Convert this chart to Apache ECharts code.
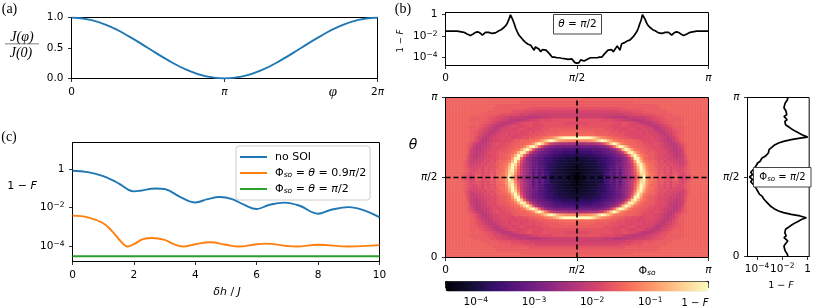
<!DOCTYPE html>
<html><head><meta charset="utf-8">
<script src="https://cdn.jsdelivr.net/npm/echarts@6/dist/echarts.min.js"></script>
<style>html,body{margin:0;padding:0;background:#fff}#c{width:814px;height:308px}</style>
</head><body><div id="c"></div>
<script>
const PI = Math.PI;
// (a)
const phiOverPi = [0,0.125,0.25,0.375,0.5,0.625,0.75,0.875,1,1.125,1.25,1.375,1.5,1.625,1.75,1.875,2];
const couplingRatio = [1,0.962,0.854,0.691,0.5,0.309,0.146,0.038,0,0.038,0.146,0.309,0.5,0.691,0.854,0.962,1];
// (c) log10(1-F)
const deltaH   = [0,0.5,1,1.5,1.8,2,2.2,2.7,3,3.5,4,4.4,4.8,5.2,5.6,6,6.4,6.9,7.4,8,8.4,9,9.5,10];
const noSoi    = [-0.10,-0.17,-0.38,-0.75,-1.06,-1.16,-1.13,-1.01,-1.04,-1.44,-1.73,-1.56,-1.45,-1.56,-1.86,-2.07,-1.86,-1.74,-1.90,-2.31,-2.12,-1.97,-2.14,-2.50];
const deltaH2  = [0,0.5,1,1.3,1.6,1.8,2,2.3,2.6,3,3.3,3.6,4,4.5,5,5.4,6,6.3,7,7.3,8,9,10];
const soi09    = [-2.41,-2.50,-2.80,-3.23,-3.78,-4.0,-3.88,-3.62,-3.56,-3.66,-3.88,-4.0,-3.88,-3.78,-3.91,-4.0,-3.88,-3.85,-3.97,-4.0,-3.91,-4.0,-3.93];
const deltaH3  = [0,10];
const soiPi2   = [-4.5,-4.5];
// (b) top slice, left half (fraction of pi, log10)
const sliceXFrac = [0,.045,.07,.082,.095,.105,.114,.123,.131,.14,.146,.152,.159,.165,.171,.177,.184,.19,.197,.203,.212,.222,.23,.235,.241,.247,.251,.256,.262,.267,.273,.279,.286,.292,.298,.303,.309,.314,.319,.324,.33,.337,.342,.347,.355,.362,.368,.375,.382,.394,.406,.415,.423,.432,.441,.448,.457,.466,.473,.48,.486,.492,.497,.5];
const sliceXVal  = [-1.53,-1.53,-1.65,-1.8,-1.95,-1.8,-1.65,-1.6,-1.7,-1.9,-1.75,-1.65,-1.8,-1.65,-1.62,-1.75,-1.6,-1.7,-1.55,-1.5,-1.4,-1.2,-1.0,-.8,-.45,-.02,0,-.5,-.9,-1.27,-1.6,-1.9,-2.05,-2.27,-2.35,-2.55,-2.45,-2.75,-2.6,-2.85,-2.7,-3.3,-3.0,-2.9,-3.2,-3.45,-3.25,-3.2,-3.3,-3.6,-3.95,-3.95,-4.0,-4.0,-4.05,-4.0,-4.1,-4.15,-4.3,-4.1,-4.2,-4.45,-4.55,-4.5];
// (b) right slice, lower half
const sliceYFrac = [0,.015,.035,.05,.066,.083,.098,.108,.119,.129,.14,.15,.161,.171,.181,.196,.213,.234,.244,.249,.255,.265,.276,.286,.301,.318,.328,.339,.349,.36,.37,.38,.391,.401,.412,.422,.433,.443,.454,.47,.485,.5];
const sliceYVal  = [-1.57,-1.6,-1.77,-1.83,-1.87,-1.72,-1.57,-1.65,-1.87,-1.7,-1.62,-1.8,-1.72,-1.75,-1.57,-1.3,-.95,-.45,-.1,0,-.6,-1.3,-1.9,-2.3,-2.65,-2.95,-3.05,-3.2,-3.1,-3.45,-3.35,-3.6,-3.8,-3.75,-3.95,-3.95,-4.1,-4.25,-4.3,-4.5,-4.35,-4.6];
const crossLine = [0,0.5,1];
// (b) map: one quadrant of log10(1-F) in tenths; rows outer edge -> centre, columns outer edge -> centre
const q = [
[-15,-15,-15,-15,-15,-15,-15,-15,-15,-15, -15,-15,-15,-15,-15,-15,-15,-15,-15,-15, -15,-15,-15,-15,-15,-15,-15,-15,-15,-15, -15,-15,-15,-15,-15,-15,-15,-15,-15,-15, -15,-15,-15,-15],
[-15,-15,-15,-15,-15,-15,-15,-15,-15,-15, -15,-15,-15,-15,-15,-15,-15,-15,-15,-15, -15,-15,-15,-15,-15,-16,-16,-16,-16,-16, -16,-16,-16,-16,-16,-16,-16,-16,-16,-16, -16,-16,-16,-16],
[-15,-15,-15,-15,-15,-15,-15,-15,-15,-15, -15,-15,-15,-15,-15,-15,-15,-16,-16,-16, -16,-16,-16,-16,-16,-16,-16,-16,-16,-16, -16,-16,-16,-16,-16,-16,-16,-16,-16,-16, -16,-16,-16,-16],
[-15,-15,-15,-15,-15,-15,-15,-15,-15,-15, -15,-15,-15,-15,-15,-15,-16,-16,-16,-16, -16,-16,-16,-16,-16,-16,-16,-16,-17,-17, -17,-17,-17,-17,-17,-17,-17,-17,-17,-17, -17,-17,-17,-17],
[-15,-15,-15,-15,-15,-15,-15,-15,-15,-15, -15,-15,-15,-15,-16,-16,-16,-16,-16,-16, -16,-16,-17,-17,-17,-17,-18,-18,-18,-18, -19,-19,-19,-19,-19,-19,-19,-19,-19,-19, -19,-19,-19,-19],
[-15,-15,-15,-15,-15,-15,-15,-15,-15,-15, -15,-15,-16,-16,-16,-16,-16,-16,-17,-17, -17,-17,-18,-18,-18,-19,-19,-19,-20,-20, -20,-20,-20,-20,-20,-20,-20,-20,-20,-20, -20,-20,-20,-20],
[-15,-15,-15,-15,-15,-15,-15,-15,-15,-16, -16,-16,-16,-16,-16,-17,-17,-18,-18,-19, -19,-20,-20,-20,-21,-21,-21,-22,-22,-22, -22,-22,-21,-21,-21,-20,-20,-20,-20,-20, -20,-20,-20,-20],
[-15,-15,-15,-15,-15,-15,-15,-15,-16,-16, -16,-16,-16,-16,-17,-17,-18,-18,-19,-20, -20,-21,-22,-22,-22,-22,-21,-21,-20,-19, -19,-18,-18,-18,-18,-18,-17,-17,-17,-17, -17,-17,-17,-17],
[-15,-15,-15,-15,-15,-15,-15,-15,-15,-16, -15,-16,-16,-17,-17,-18,-19,-20,-21,-22, -22,-22,-21,-20,-19,-18,-18,-17,-17,-18, -18,-18,-17,-17,-17,-17,-17,-17,-17,-17, -18,-18,-18,-18],
[-15,-15,-15,-15,-15,-15,-15,-15,-16,-16, -16,-16,-17,-18,-19,-20,-21,-22,-22,-21, -20,-19,-18,-18,-19,-19,-18,-18,-17,-18, -18,-18,-18,-17,-17,-17,-17,-17,-17,-17, -17,-17,-17,-17],
[-15,-15,-15,-15,-15,-15,-15,-15,-16,-16, -16,-17,-18,-19,-20,-21,-22,-22,-20,-19, -19,-18,-19,-19,-18,-17,-18,-18,-19,-18, -18,-18,-17,-17,-17,-16,-16,-16,-16,-16, -16,-16,-16,-16],
[-15,-15,-15,-15,-15,-15,-15,-15,-16,-16, -17,-18,-19,-20,-21,-22,-21,-20,-19,-19, -18,-19,-18,-18,-18,-19,-18,-18,-17,-18, -17,-17,-17,-16,-16,-16,-16,-16,-15,-15, -15,-15,-15,-15],
[-15,-15,-15,-15,-15,-15,-15,-15,-16,-16, -17,-18,-20,-21,-22,-21,-20,-19,-19,-18, -18,-19,-18,-19,-18,-18,-18,-18,-17,-17, -17,-16,-16,-16,-15,-15,-15,-15,-14,-14, -14,-14,-14,-14],
[-15,-15,-15,-15,-15,-15,-15,-15,-16,-16, -18,-20,-21,-22,-21,-20,-19,-19,-18,-18, -18,-18,-19,-18,-18,-18,-17,-17,-16,-16, -15,-15,-14,-13,-12,-11,-9,-6,-3,-1, 0,0,0,0],
[-15,-15,-15,-15,-15,-15,-15,-15,-16,-17, -18,-20,-22,-22,-21,-20,-19,-19,-18,-18, -18,-18,-17,-16,-16,-15,-15,-15,-14,-14, -13,-12,-9,-6,-2,0,-3,-7,-9,-10, -11,-11,-11,-12],
[-15,-15,-15,-15,-15,-15,-15,-16,-17,-19, -21,-22,-22,-21,-20,-19,-18,-17,-18,-18, -17,-17,-16,-16,-15,-15,-15,-14,-13,-10, -4,0,-5,-11,-16,-20,-22,-23,-24,-24, -24,-25,-25,-25],
[-15,-15,-15,-15,-15,-15,-15,-16,-18,-20, -22,-22,-21,-21,-20,-19,-18,-18,-18,-17, -17,-16,-16,-15,-15,-14,-12,-7,-2,0, -6,-15,-21,-25,-27,-28,-29,-30,-30,-30, -30,-30,-30,-31],
[-15,-15,-15,-15,-15,-15,-15,-16,-19,-21, -22,-22,-21,-20,-19,-18,-18,-18,-17,-17, -16,-16,-15,-14,-13,-9,-3,0,-7,-17, -23,-26,-28,-30,-31,-32,-33,-33,-33,-34, -34,-34,-34,-35],
[-15,-15,-15,-15,-15,-15,-15,-16,-20,-21, -22,-21,-21,-20,-18,-18,-18,-17,-16,-16, -16,-15,-14,-12,-7,-1,-2,-12,-20,-25, -27,-29,-30,-31,-32,-33,-34,-35,-35,-36, -36,-36,-36,-37],
[-15,-15,-15,-15,-15,-15,-15,-17,-20,-21, -22,-21,-20,-19,-19,-18,-18,-17,-16,-16, -15,-14,-12,-7,0,-5,-15,-22,-26,-28, -29,-31,-32,-33,-34,-35,-36,-36,-37,-38, -38,-38,-38,-39],
[-15,-15,-15,-15,-15,-15,-15,-17,-20,-21, -21,-20,-20,-19,-18,-18,-18,-17,-16,-16, -15,-14,-9,-1,-1,-15,-22,-26,-28,-30, -31,-32,-33,-35,-36,-36,-38,-38,-39,-39, -40,-40,-40,-41],
[-15,-15,-15,-15,-15,-15,-16,-18,-20,-21, -20,-20,-19,-18,-19,-17,-18,-16,-15,-15, -14,-12,-6,0,-9,-18,-23,-26,-28,-31, -31,-33,-34,-35,-36,-37,-38,-39,-40,-40, -40,-41,-41,-41],
[-15,-15,-15,-15,-15,-15,-16,-18,-20,-20, -19,-19,-18,-19,-17,-18,-17,-16,-15,-14, -13,-8,-1,-4,-13,-20,-24,-26,-28,-30, -31,-33,-34,-35,-37,-38,-38,-39,-40,-40, -41,-41,-42,-42],
[-15,-15,-15,-15,-15,-15,-16,-17,-19,-19, -19,-18,-19,-17,-18,-17,-17,-16,-14,-14, -12,-6,0,-7,-15,-21,-24,-26,-28,-31, -30,-33,-33,-35,-37,-38,-39,-40,-40,-41, -41,-42,-42,-43],
[-15,-15,-15,-15,-15,-15,-16,-17,-18,-19, -18,-17,-19,-17,-18,-17,-17,-15,-15,-14, -11,-4,-1,-9,-16,-21,-24,-26,-28,-32, -30,-33,-33,-36,-37,-38,-39,-40,-41,-41, -42,-42,-43,-43],
[-15,-15,-15,-15,-15,-15,-16,-17,-19,-18, -17,-17,-19,-17,-18,-16,-17,-15,-14,-13, -10,-3,-3,-11,-17,-21,-24,-26,-28,-33, -30,-34,-32,-35,-36,-39,-40,-40,-41,-41, -42,-42,-43,-44],
[-15,-15,-15,-15,-15,-16,-17,-18,-20,-19, -16,-16,-18,-18,-17,-16,-17,-14,-14,-13, -10,-1,-6,-13,-19,-22,-25,-27,-28,-33, -29,-34,-32,-35,-36,-40,-40,-40,-40,-41, -41,-43,-43,-45]
];
const magma = ['#000004','#140e36','#3b0f70','#641a80','#8c2981','#b73779','#de4968','#f7705c','#fe9f6d','#fecf92','#fcfdbf'];
const cbMin = -4.52, cbMax = 0;

// build full table from the quadrant
const rowsFull = q.concat(q.slice().reverse()).map(r => r.concat(r.slice().reverse()));
const heatData = [];
rowsFull.forEach((r,y)=>r.forEach((v,x)=>heatData.push([x,y,v/10])));
const nx = rowsFull[0].length, ny = rowsFull.length;

const FONT='"DejaVu Sans"';
const FS=10.5;
const richBase = {
  b:{fontFamily:FONT,fontSize:FS,color:'#000',lineHeight:13},
  s:{fontFamily:FONT,fontSize:7.5,color:'#000',verticalAlign:'top',lineHeight:13,padding:[0,0,3,0]},
  i:{fontFamily:FONT,fontStyle:'italic',fontSize:FS,color:'#000',lineHeight:13}
};
const logFmt = v => Math.abs(v)<1e-9 ? '{b|1}' : '{b|10}{s|−'+Math.round(-v)+'}';
const piFmt = v => {
  if(Math.abs(v)<1e-9) return '{b|0}';
  const k=v/PI;
  if(Math.abs(k-0.5)<1e-6) return '{i|π}{b|/2}';
  if(Math.abs(k-1)<1e-6) return '{i|π}';
  return '{b|2}{i|π}';
};
const pis = [0,PI/2,PI];
function axis(o,margin){
  const a=Object.assign({
    type:'value', splitLine:{show:false},
    axisLine:{show:true,onZero:false,lineStyle:{color:'#000',width:1}},
    axisTick:{show:true,length:3.5,lineStyle:{color:'#000',width:.8}},
    axisLabel:{show:true,margin:margin==null?5:margin,hideOverlap:false,fontFamily:FONT,fontSize:FS,color:'#000',rich:richBase,showMinLabel:true,showMaxLabel:true}
  },o);
  return a;
}
function custom(ax,vals,fmt){
  ax.axisTick=Object.assign({},ax.axisTick,{customValues:vals});
  ax.axisLabel=Object.assign({},ax.axisLabel,{customValues:vals,formatter:fmt});
  return ax;
}
const gridStyle={show:true,borderColor:'#000',borderWidth:1,backgroundColor:'transparent'};
const grids=[
 Object.assign({left:71.5,top:17.5,width:306,height:61},gridStyle),      //0 a
 Object.assign({left:445.5,top:12.5,width:263,height:53},gridStyle),     //1 b top
 Object.assign({left:445.5,top:97.5,width:263,height:160,z:3},gridStyle),//2 map
 Object.assign({left:445.5,top:281.5,width:263,height:10,z:3},gridStyle),//3 colorbar
 Object.assign({left:747.5,top:97.5,width:65,height:159},gridStyle),     //4 right
 Object.assign({left:72.5,top:142.5,width:307,height:119},gridStyle)     //5 c
];
const xAxes=[
 custom(axis({gridIndex:0,min:0,max:2*PI},7),[0,PI,2*PI],piFmt),
 custom(axis({gridIndex:1,min:0,max:PI},6),pis,piFmt),
 {gridIndex:2,type:'category',show:false,boundaryGap:true,data:Array.from({length:nx},(_,i)=>i)},
 custom(axis({gridIndex:2,min:0,max:PI,position:'bottom'},6),pis,piFmt),
 custom(axis({gridIndex:3,min:cbMin,max:cbMax,position:'bottom'},9),[-4,-3,-2,-1],logFmt),
 (function(){const vals=[];for(let d=-5;d<0;d++)for(let k=2;k<10;k++){const v=d+Math.log10(k);if(v>cbMin&&v<cbMax)vals.push(v);}
   const a=axis({gridIndex:3,min:cbMin,max:cbMax,position:'bottom'});a.axisLabel={show:false};a.axisTick=Object.assign({},a.axisTick,{length:2,customValues:vals});return a;})(),
 custom(axis({gridIndex:4,min:-4.75,max:0.12},6),[-4,-2,0],logFmt),
 axis({gridIndex:5,min:0,max:10,interval:2},8)
];
const yAxes=[
 (function(){const a=axis({gridIndex:0,min:0,max:1,interval:.5},8);a.axisLabel.formatter=v=>v.toFixed(1);return a;})(),
 custom(axis({gridIndex:1,min:-4.72,max:0.19},8),[-4,-2,0],logFmt),
 {gridIndex:2,type:'category',show:false,boundaryGap:true,data:Array.from({length:ny},(_,i)=>i)},
 custom(axis({gridIndex:2,min:0,max:PI,position:'left'},8),pis,piFmt),
 {gridIndex:3,type:'value',show:false,min:0,max:1},
 custom(axis({gridIndex:4,min:0,max:PI},8),pis,piFmt),
 custom(axis({gridIndex:5,min:-4.77,max:1.354},8),[-4,-2,0],logFmt)
];
const line=(name,xi,yi,data,color,w,extra)=>Object.assign({type:'line',name,xAxisIndex:xi,yAxisIndex:yi,data,showSymbol:false,symbol:'none',
  lineStyle:{color,width:w},itemStyle:{color},animation:false,silent:true},extra||{});
const zip=(a,b)=>a.map((v,i)=>[v,b[i]]);
const sliceX=sliceXFrac.map((f,i)=>[f*PI,sliceXVal[i]]).concat(sliceXFrac.slice(0,-1).reverse().map((f,i,arr)=>[(1-f)*PI,sliceXVal[arr.length-1-i]]));
const sliceY=sliceYFrac.map((f,i)=>[sliceYVal[i],f*PI]).concat(sliceYFrac.slice(0,-1).reverse().map((f,i,arr)=>[sliceYVal[arr.length-1-i],(1-f)*PI]));
const dash={type:[5,3],color:'#000',width:1.6};
const series=[
 line('a',0,0,zip(phiOverPi.map(v=>v*PI),couplingRatio),'#1f77b4',1.9,{smooth:true}),
 line('sx',1,1,sliceX,'#000',1.7),
 {type:'heatmap',xAxisIndex:2,yAxisIndex:2,data:heatData,z:1,animation:false,silent:true,progressive:0,itemStyle:{borderWidth:0}},
 line('hline',3,3,crossLine.map(v=>[v*PI,PI/2]),'#000',1.6,{lineStyle:dash,z:4}),
 line('vline',3,3,crossLine.map(v=>[PI/2,v*PI]),'#000',1.6,{lineStyle:dash,z:4}),
 line('sy',6,5,sliceY,'#000',1.7),
 line('no SOI',7,6,zip(deltaH,noSoi),'#1f77b4',1.9,{smooth:.4}),
 line('orange',7,6,zip(deltaH2,soi09),'#ff7f0e',1.9,{smooth:.4}),
 line('green',7,6,zip(deltaH3,soiPi2),'#2ca02c',1.9)
];
const richAt=(fs,sub)=>({b:{fontFamily:FONT,fontSize:fs,color:'#000'},i:{fontFamily:FONT,fontStyle:'italic',fontSize:fs,color:'#000'},
          u:{fontFamily:FONT,fontStyle:'italic',fontSize:sub,color:'#000',verticalAlign:'bottom',padding:[4,0,0,0]}});
const lg=richAt(11,7.5);
const legendText={'no SOI':'{b|no SOI}',
 'orange':'{b|Φ}{u|so}{b| = }{i|θ}{b| = 0.9}{i|π}{b|/2}',
 'green':'{b|Φ}{u|so}{b| = }{i|θ}{b| = }{i|π}{b|/2}'};
const T=(x,y,text,o)=>Object.assign({type:'text',x,y,z:20,silent:true,style:Object.assign({text,fontFamily:FONT,fontSize:10,fill:'#000',align:'center',verticalAlign:'middle',rich:lg},o&&o.style||{})},o&&o.rot?{rotation:o.rot}:{});
const serif={fontFamily:'"Liberation Serif"',fontSize:14};
const jfont={fontFamily:'"Liberation Serif"',fontStyle:'italic',fontSize:14};
const graphic=[
 T(9.5,9,'(a)',{style:serif}), T(403,9,'(b)',{style:serif}), T(9,137,'(c)',{style:serif}),
 T(22,37.5,'J(φ)',{style:jfont}), T(21,53,'J(0)',{style:jfont}),
 {type:'rect',shape:{x:5,y:43.5,width:34,height:.8},style:{fill:'#555'},silent:true},
 T(333,92,'φ',{style:{fontFamily:'"Liberation Serif"',fontStyle:'italic',fontSize:15}}),
 T(22,186,'{b|1 − }{i|F}'),
 T(227,292.5,'{i|δh}{b| / }{i|J}'),
 T(401,41,'{b|1 − }{i|F}',{rot:PI/2,style:{rich:richAt(8.5,7)}}),
 T(413,145,'θ',{style:{fontStyle:'italic',fontSize:14}}),
 T(647,271.5,'{b|Φ}{u|so}'),
 T(695,303,'{b|1 − }{i|F}',{style:{rich:richAt(10,7)}}),
 T(781,286,'{b|1 − }{i|F}',{style:{rich:richAt(9.5,7)}}),
 {type:'rect',z:18,shape:{x:553.5,y:14.5,width:48,height:19.5},style:{fill:'#fff',stroke:'#444',lineWidth:1},silent:true},
 T(577.5,24.5,'{i|θ}{b| = }{i|π}{b|/2}',{style:{rich:richAt(10.5,7)}}),
 {type:'rect',z:18,shape:{x:753.5,y:167.5,width:57.5,height:19.5},style:{fill:'#fff',stroke:'#444',lineWidth:1},silent:true},
 T(782.5,177.5,'{b|Φ}{u|so}{b| = }{i|π}{b|/2}',{style:{rich:richAt(10,7)}})
];
const chart=echarts.init(document.getElementById('c'),null,{renderer:'canvas',width:814,height:308});
chart.setOption({
 animation:false,backgroundColor:'#fff',
 grid:grids,xAxis:xAxes,yAxis:yAxes,series,graphic,
 visualMap:{type:'continuous',seriesIndex:2,min:cbMin,max:cbMax,calculable:false,orient:'horizontal',
   itemWidth:10,itemHeight:263,left:445.5,top:281.5,padding:0,text:null,showLabel:false,hoverLink:false,realtime:false,
   inRange:{color:magma}},
 legend:{show:true,orient:'vertical',left:236,top:146,padding:[5,4,5,4],itemGap:4,itemWidth:27,itemHeight:2,
   icon:'rect',backgroundColor:'rgba(255,255,255,.8)',borderColor:'#ccc',borderWidth:1,borderRadius:3,
   data:['no SOI','orange','green'],selectedMode:false,z:15,
   formatter:n=>legendText[n],textStyle:{fontFamily:FONT,fontSize:11,rich:lg,lineHeight:12,padding:[0,0,0,3]}}
});
</script></body></html>
